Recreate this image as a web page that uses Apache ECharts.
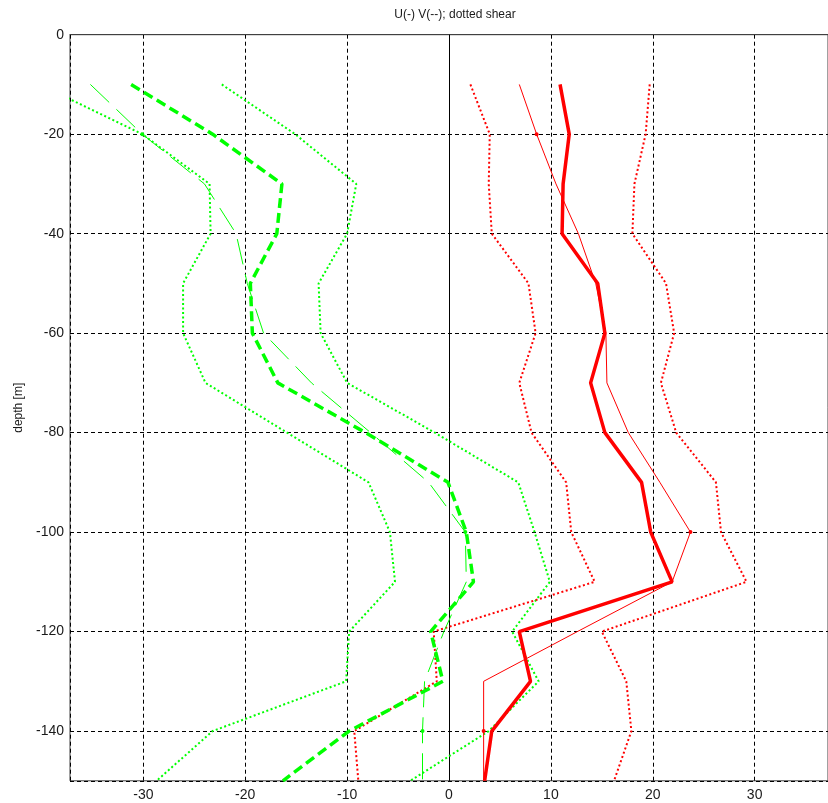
<!DOCTYPE html>
<html>
<head>
<meta charset="utf-8">
<script src="https://cdn.jsdelivr.net/npm/echarts@6/dist/echarts.min.js"></script>
<style>
html,body{margin:0;padding:0;background:#fff;}
#chart{width:828px;height:803px;}
</style>
</head>
<body>
<div id="chart"></div>
<script>
// ---- data ----
const titleText = 'U(-) V(--); dotted shear';
const yName = 'depth [m]';
const depth = [-10, -20, -30, -40, -50, -60, -70, -80, -90, -100, -110, -120, -130, -140, -150];
const uThick = [10.9, 11.8, 11.2, 11.1, 14.6, 15.3, 13.9, 15.3, 18.9, 19.8, 21.9, 6.9, 8.0, 4.2, 3.5];
const vThick = [-31.2, -23.2, -16.4, -16.9, -19.5, -19.3, -16.8, -8.2, -0.1, 1.7, 2.4, -1.8, -0.6, -9.8, -16.3];
const uThin = [6.9, 8.6, 10.5, 12.7, 14.4, 15.4, 15.5, 17.6, 20.7, 23.7, 21.9, 12.6, 3.4, 3.4, 3.4];
const vThin = [-35.2, -30.1, -24.0, -20.9, -19.8, -18.2, -13.5, -7.7, -2.0, 1.6, 1.7, -0.5, -2.4, -2.6, -2.6];
const uShearLo = [2.1, 4.0, 3.9, 4.2, 7.8, 8.5, 6.9, 8.1, 11.5, 12.0, 14.3, -1.5, -1.2, -9.3, -8.9];
const uShearHi = [19.7, 19.3, 18.2, 18.0, 21.3, 22.1, 20.8, 22.3, 26.2, 26.7, 29.2, 15.0, 17.4, 17.9, 16.2];
const vShearLo = [-40.2, -30.1, -23.5, -23.4, -26.1, -26.1, -23.9, -15.9, -7.9, -5.8, -5.3, -9.8, -10.1, -23.2, -28.7];
const vShearHi = [-22.3, -15.1, -9.1, -10.0, -12.8, -12.6, -10.0, -1.4, 6.8, 8.4, 9.9, 6.2, 8.8, 3.9, -3.8];
const markedDepths = [-20, -100, -140];
const xMin = -37.2, xMax = 37.2, yMin = -150, yMax = 0;

const GREEN = '#00ff00', RED = '#ff0000';
const FONT = '"Liberation Sans", Arial, sans-serif';

function pts(xs) { return xs.map((x, i) => [x, depth[i]]); }

function line(name, xs, color, width, type, z, marks) {
  const s = {
    name, type: 'line', data: pts(xs), z: z,
    lineStyle: { color, width, type },
    itemStyle: { color },
    symbol: marks ? 'circle' : 'none',
    showSymbol: !!marks, showAllSymbol: true,
    silent: true, clip: true
  };
  if (marks) s.symbolSize = v => markedDepths.includes(v[1]) ? 4 : 0;
  return s;
}

const chart = echarts.init(document.getElementById('chart'), null, { renderer: 'canvas' });
const series = [
  line('vShearLo', vShearLo, GREEN, 2, [2, 2.5], 2),
  line('vShearHi', vShearHi, GREEN, 2, [2, 2.5], 2),
  line('uShearLo', uShearLo, RED, 2, [2, 2.5], 2),
  line('uShearHi', uShearHi, RED, 2, [2, 2.5], 2),
  line('vThin', vThin, GREEN, 1, [26, 10], 3, true),
  line('uThin', uThin, RED, 1, 'solid', 3, true),
  line('vThick', vThick, GREEN, 3.5, [10, 5], 4),
  line('uThick', uThick, RED, 3.5, 'solid', 4)
];
series[0].markLine = {
  silent: true, symbol: 'none', label: { show: false },
  lineStyle: { color: '#000', width: 1, type: 'solid' },
  data: [{ xAxis: 0 }], z: 1, animation: false
};

chart.setOption({
  animation: false,
  backgroundColor: '#fff',
  title: {
    text: titleText, left: 450, top: 4, textAlign: 'center',
    textStyle: { fontFamily: FONT, fontSize: 12, fontWeight: 'normal', color: '#1a1a1a' }
  },
  grid: {
    left: 70, top: 34.7, width: 760.4, height: 746.1,
    show: true, borderColor: '#404040', borderWidth: 1, backgroundColor: 'transparent',
    containLabel: false
  },
  xAxis: {
    type: 'value', min: xMin, max: xMax, splitNumber: 7,
    axisLine: { show: true, lineStyle: { color: '#404040' } },
    axisTick: { show: false },
    axisLabel: { showMinLabel: false, showMaxLabel: false, margin: 7,
      fontFamily: FONT, fontSize: 14, color: '#1a1a1a' },
    splitLine: { show: true, lineStyle: { color: '#000', type: [4, 3], width: 1 } }
  },
  yAxis: {
    type: 'value', min: yMin, max: yMax, splitNumber: 7,
    name: yName, nameLocation: 'middle', nameRotate: 90, nameGap: 40,
    nameTextStyle: { fontFamily: FONT, fontSize: 12, color: '#1a1a1a' },
    axisLine: { show: true, lineStyle: { color: '#404040' } },
    axisTick: { show: false },
    axisLabel: { showMinLabel: false, margin: 6,
      fontFamily: FONT, fontSize: 14, color: '#1a1a1a' },
    splitLine: { show: true, lineStyle: { color: '#000', type: [4, 3], width: 1 } }
  },
  series: series
});
</script>
</body>
</html>
